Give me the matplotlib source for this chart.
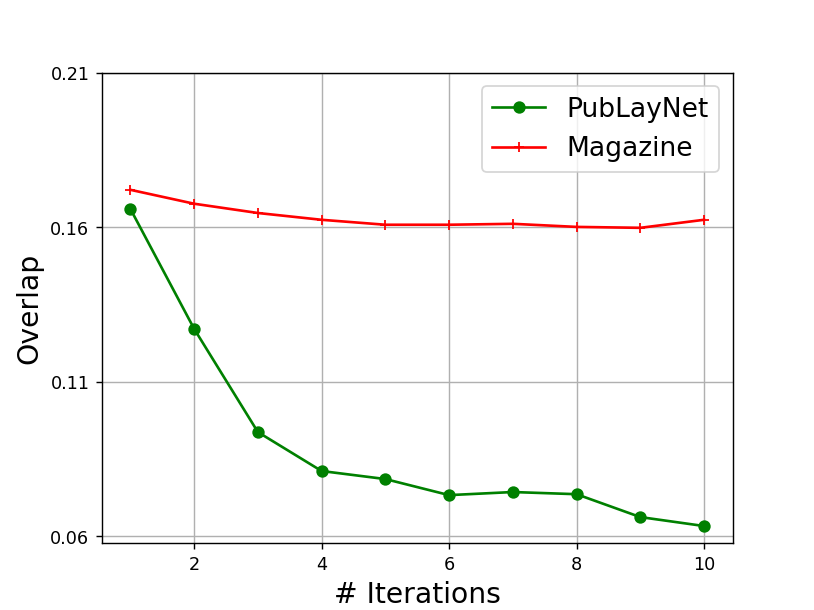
import numpy as np
import matplotlib.pyplot as plt

iterations = [1, 2, 3, 4, 5, 6, 7, 8, 9, 10]
publaynet = [0.1659, 0.1271, 0.0937, 0.0811, 0.0785, 0.0733, 0.0743, 0.0736, 0.0662, 0.0633]
magazine = [0.1721, 0.1676, 0.1646, 0.1624, 0.1608, 0.1608, 0.1611, 0.1601, 0.1598, 0.1624]
yticks = [0.06, 0.11, 0.16, 0.21]

fig = plt.figure(figsize=(6.4, 4.8), dpi=127.2)
ax = fig.add_subplot(111)
ax.plot(iterations, publaynet, color='green', marker='o', label='PubLayNet')
ax.plot(iterations, magazine, color='red', marker='+', label='Magazine')
ax.set_yticks(yticks)
ax.set_yticklabels(['{:.2f}'.format(v) for v in yticks])
ax.set_ylim(top=0.21)
ax.set_xlabel('# Iterations', fontsize=16)
ax.set_ylabel('Overlap', fontsize=16)
ax.grid(True)
ax.legend(fontsize=15)
fig.savefig('out.png')
